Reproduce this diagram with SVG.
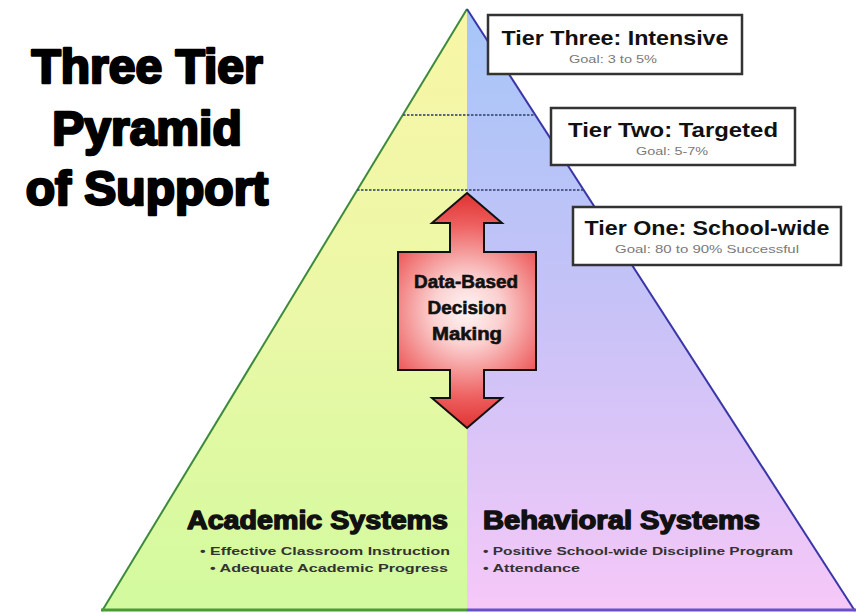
<svg xmlns="http://www.w3.org/2000/svg" width="856" height="613" viewBox="0 0 856 613">
<style>
.title{font-family:"Liberation Sans",Arial,sans-serif;font-weight:900;font-size:48px;fill:#000;stroke:#000;stroke-width:2.6;stroke-linejoin:round;text-anchor:middle}
.tbox{fill:#fff;stroke:#333;stroke-width:2.5}
.thead{font-family:"Liberation Sans",Arial,sans-serif;font-weight:bold;font-size:21px;fill:#111;text-anchor:middle}
.goal{font-family:"Liberation Sans",Arial,sans-serif;font-size:11px;fill:#7a7a7a;text-anchor:middle}
.sys{font-family:"Liberation Sans",Arial,sans-serif;font-weight:900;font-size:25px;fill:#111;stroke:#111;stroke-width:1.4;stroke-linejoin:round}
.bul{font-family:"Liberation Sans",Arial,sans-serif;font-weight:bold;font-size:11.5px;fill:#333}
.arrowtxt{font-family:"Liberation Sans",Arial,sans-serif;font-weight:bold;font-size:18px;fill:#111;text-anchor:middle;stroke:#111;stroke-width:0.6}
.dots{stroke:#3e4c78;stroke-width:2;stroke-dasharray:2.5 1.5;fill:none;opacity:0.85}
</style>
<defs>
<linearGradient id="gl" gradientUnits="userSpaceOnUse" x1="0" y1="9" x2="0" y2="611">
<stop offset="0" stop-color="#f8f6a6"/>
<stop offset="0.5" stop-color="#ebf8a7"/>
<stop offset="1" stop-color="#d2fa9e"/>
</linearGradient>
<linearGradient id="gr" gradientUnits="userSpaceOnUse" x1="0" y1="9" x2="0" y2="611">
<stop offset="0" stop-color="#a6c6f8"/>
<stop offset="0.5" stop-color="#c7c2f7"/>
<stop offset="1" stop-color="#f6c8f8"/>
</linearGradient>
<radialGradient id="ga" gradientUnits="userSpaceOnUse" cx="467" cy="311" r="115" fx="467" fy="311">
<stop offset="0" stop-color="#fff6f6"/>
<stop offset="0.3" stop-color="#fbd0d0"/>
<stop offset="0.75" stop-color="#ee6060"/>
<stop offset="1" stop-color="#e23636"/>
</radialGradient>
</defs>
<rect width="856" height="613" fill="#fff"/>

<g id="pyramid">
<polygon points="467,9 102,611 467,611" fill="url(#gl)"/>
<polygon points="467,9 855,611 467,611" fill="url(#gr)"/>
<line x1="467" y1="9" x2="102" y2="611" stroke="#3d8a3d" stroke-width="2"/>
<line x1="467" y1="9" x2="855" y2="611" stroke="#3a36a8" stroke-width="2"/>
<line x1="101" y1="610" x2="467" y2="610" stroke="#4a9a3a" stroke-width="3"/>
<line x1="467" y1="610" x2="856" y2="610" stroke="#6a50c8" stroke-width="3"/>
<line class="dots" x1="403" y1="115" x2="535" y2="115"/>
<line class="dots" x1="357" y1="190" x2="584" y2="190"/>
</g>

<g id="title">
<text class="title" x="147" y="83">Three Tier</text>
<text class="title" x="147" y="145">Pyramid</text>
<text class="title" x="147" y="205">of Support</text>
</g>

<g id="tier3">
<rect class="tbox" x="488" y="15" width="254" height="59"/>
<text class="thead" x="615" y="45" textLength="227" lengthAdjust="spacingAndGlyphs">Tier Three: Intensive</text>
<text class="goal" x="613" y="63" textLength="88" lengthAdjust="spacingAndGlyphs">Goal: 3 to 5%</text>
</g>
<g id="tier2">
<rect class="tbox" x="551" y="108" width="244" height="57"/>
<text class="thead" x="673" y="137" textLength="210" lengthAdjust="spacingAndGlyphs">Tier Two: Targeted</text>
<text class="goal" x="672" y="155" textLength="72" lengthAdjust="spacingAndGlyphs">Goal: 5-7%</text>
</g>
<g id="tier1">
<rect class="tbox" x="573" y="207" width="268" height="58"/>
<text class="thead" x="707" y="235" textLength="245" lengthAdjust="spacingAndGlyphs">Tier One: School-wide</text>
<text class="goal" x="707" y="253" textLength="184" lengthAdjust="spacingAndGlyphs">Goal: 80 to 90% Successful</text>
</g>

<g id="decision-arrow">
<path d="M467,193 L502,223 L484,223 L484,252 L536,252 L536,370 L484,370 L484,398 L502,398 L467,428 L432,398 L450,398 L450,370 L398,370 L398,252 L450,252 L450,223 L432,223 Z" fill="url(#ga)" stroke="#111" stroke-width="2" stroke-linejoin="miter"/>
<text class="arrowtxt" x="466" y="288" textLength="104" lengthAdjust="spacingAndGlyphs">Data-Based</text>
<text class="arrowtxt" x="467" y="314" textLength="79" lengthAdjust="spacingAndGlyphs">Decision</text>
<text class="arrowtxt" x="467" y="340" textLength="70" lengthAdjust="spacingAndGlyphs">Making</text>
</g>

<g id="academic">
<text class="sys" x="187" y="529" textLength="261" lengthAdjust="spacingAndGlyphs">Academic Systems</text>
<text class="bul" x="200" y="555" textLength="250" lengthAdjust="spacingAndGlyphs">• Effective Classroom Instruction</text>
<text class="bul" x="210" y="572" textLength="238" lengthAdjust="spacingAndGlyphs">• Adequate Academic Progress</text>
</g>
<g id="behavioral">
<text class="sys" x="483" y="529" textLength="277" lengthAdjust="spacingAndGlyphs">Behavioral Systems</text>
<text class="bul" x="483" y="555" textLength="310" lengthAdjust="spacingAndGlyphs">• Positive School-wide Discipline Program</text>
<text class="bul" x="483" y="572" textLength="97" lengthAdjust="spacingAndGlyphs">• Attendance</text>
</g>
</svg>
